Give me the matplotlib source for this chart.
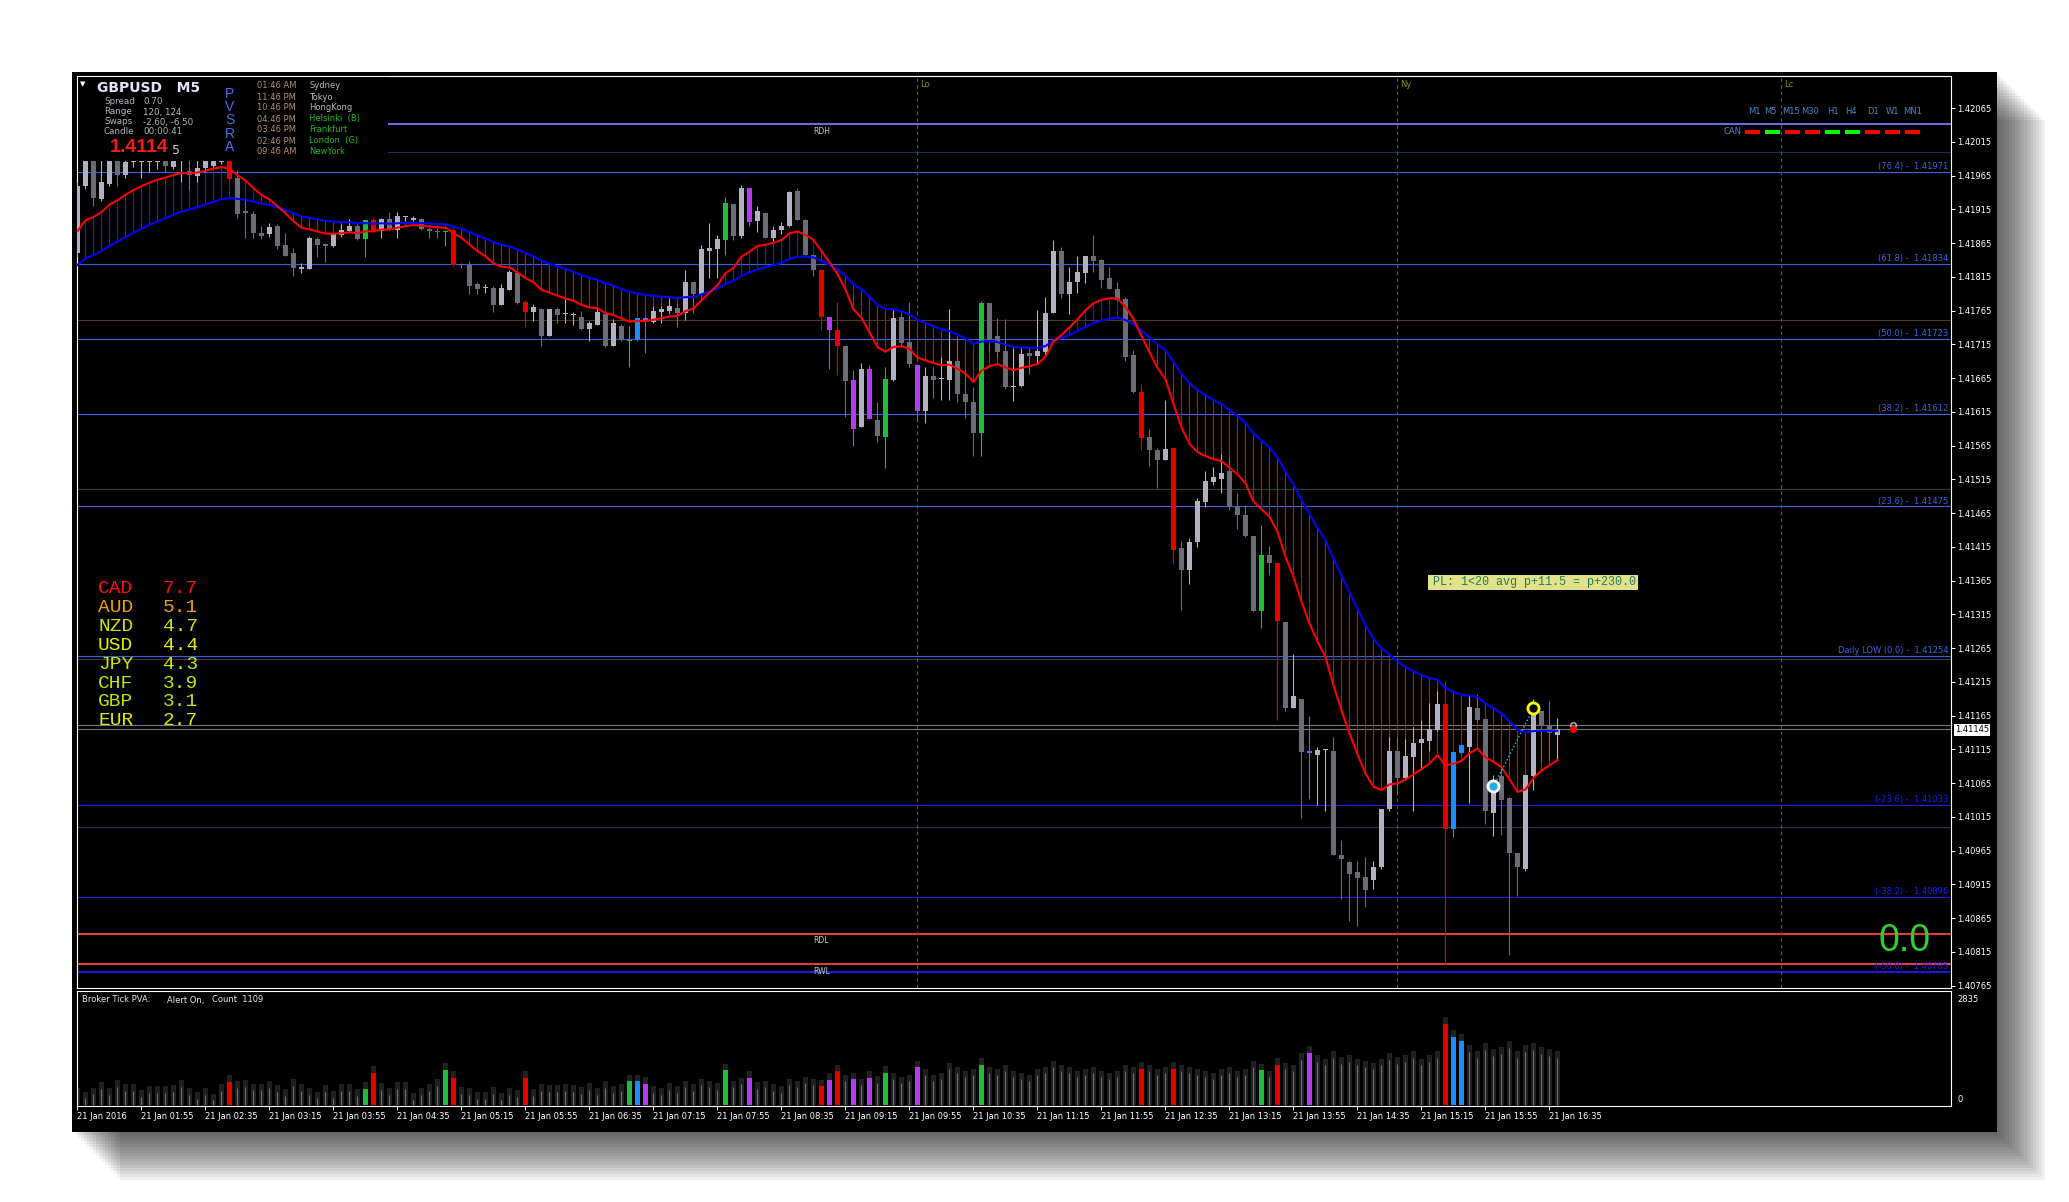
import numpy as np
import matplotlib
matplotlib.use("Agg")
import matplotlib.pyplot as plt
from matplotlib.patches import Rectangle

plt.rcParams['font.family'] = ['DejaVu Sans']

W, H = 2069, 1202

# --- DATA: GBPUSD M5, bar 0 = 21 Jan 01:15 ---
opens = [
    1.41851, 1.41949, 1.41995, 1.41931, 1.41953, 1.41992, 1.41966, 1.41985, 1.41985, 1.41985,
    1.41986, 1.41992, 1.41978, 1.41987, 1.41972, 1.41965, 1.41976, 1.41980, 1.41986, 1.41994,
    1.41961, 1.41913, 1.41908, 1.41880, 1.41878, 1.41891, 1.41862, 1.41850, 1.41827, 1.41827,
    1.41871, 1.41864, 1.41861, 1.41877, 1.41883, 1.41890, 1.41871, 1.41899, 1.41883, 1.41901,
    1.41884, 1.41904, 1.41900, 1.41901, 1.41886, 1.41883, 1.41881, 1.41884, 1.41834, 1.41833,
    1.41804, 1.41798, 1.41799, 1.41774, 1.41796, 1.41821, 1.41778, 1.41763, 1.41768, 1.41728,
    1.41768, 1.41760, 1.41758, 1.41756, 1.41738, 1.41744, 1.41760, 1.41713, 1.41743, 1.41720,
    1.41723, 1.41754, 1.41748, 1.41763, 1.41764, 1.41769, 1.41762, 1.41807, 1.41789, 1.41854,
    1.41856, 1.41869, 1.41923, 1.41875, 1.41947, 1.41898, 1.41910, 1.41872, 1.41885, 1.41890,
    1.41943, 1.41899, 1.41847, 1.41825, 1.41755, 1.41736, 1.41712, 1.41662, 1.41593, 1.41679,
    1.41603, 1.41578, 1.41663, 1.41756, 1.41719, 1.41685, 1.41616, 1.41668, 1.41664, 1.41662,
    1.41691, 1.41641, 1.41630, 1.41584, 1.41777, 1.41727, 1.41705, 1.41652, 1.41653, 1.41702,
    1.41698, 1.41704, 1.41762, 1.41853, 1.41789, 1.41808, 1.41821, 1.41846, 1.41840, 1.41813,
    1.41797, 1.41782, 1.41699, 1.41645, 1.41578, 1.41559, 1.41543, 1.41562, 1.41413, 1.41381,
    1.41422, 1.41481, 1.41511, 1.41516, 1.41527, 1.41475, 1.41462, 1.41431, 1.41320, 1.41403,
    1.41391, 1.41304, 1.41177, 1.41190, 1.41112, 1.41107, 1.41114, 1.41112, 1.40959, 1.40948,
    1.40933, 1.40926, 1.40921, 1.40941, 1.41026, 1.41112, 1.41073, 1.41104, 1.41125, 1.41128,
    1.41144, 1.41182, 1.40997, 1.41110, 1.41119, 1.41176, 1.41160, 1.41021, 1.41075, 1.41043,
    1.40962, 1.40938, 1.41075, 1.41172, 1.41151, 1.41137,
]
highs = [
    1.41955, 1.42005, 1.42002, 1.41995, 1.41998, 1.41998, 1.41995, 1.41996, 1.41995, 1.41996,
    1.41994, 1.41996, 1.41996, 1.41998, 1.41995, 1.41995, 1.41998, 1.42000, 1.42002, 1.42005,
    1.41974, 1.41930, 1.41913, 1.41890, 1.41895, 1.41893, 1.41880, 1.41858, 1.41836, 1.41875,
    1.41874, 1.41865, 1.41880, 1.41893, 1.41901, 1.41894, 1.41900, 1.41903, 1.41903, 1.41911,
    1.41911, 1.41905, 1.41906, 1.41902, 1.41888, 1.41887, 1.41884, 1.41885, 1.41836, 1.41838,
    1.41807, 1.41804, 1.41801, 1.41804, 1.41825, 1.41823, 1.41781, 1.41775, 1.41769, 1.41768,
    1.41771, 1.41784, 1.41763, 1.41764, 1.41749, 1.41769, 1.41760, 1.41752, 1.41745, 1.41743,
    1.41754, 1.41757, 1.41772, 1.41772, 1.41784, 1.41775, 1.41825, 1.41808, 1.41862, 1.41895,
    1.41877, 1.41933, 1.41923, 1.41951, 1.41947, 1.41920, 1.41910, 1.41891, 1.41896, 1.41943,
    1.41947, 1.41901, 1.41847, 1.41826, 1.41755, 1.41778, 1.41712, 1.41677, 1.41687, 1.41685,
    1.41630, 1.41682, 1.41766, 1.41760, 1.41778, 1.41686, 1.41682, 1.41682, 1.41696, 1.41768,
    1.41726, 1.41677, 1.41652, 1.41780, 1.41777, 1.41754, 1.41753, 1.41709, 1.41709, 1.41711,
    1.41766, 1.41785, 1.41869, 1.41860, 1.41830, 1.41846, 1.41846, 1.41877, 1.41842, 1.41830,
    1.41808, 1.41785, 1.41706, 1.41657, 1.41590, 1.41562, 1.41633, 1.41562, 1.41423, 1.41428,
    1.41488, 1.41527, 1.41534, 1.41552, 1.41547, 1.41495, 1.41477, 1.41431, 1.41447, 1.41416,
    1.41391, 1.41304, 1.41257, 1.41190, 1.41165, 1.41119, 1.41116, 1.41133, 1.40981, 1.40949,
    1.40949, 1.40956, 1.40949, 1.41027, 1.41133, 1.41133, 1.41130, 1.41148, 1.41158, 1.41183,
    1.41201, 1.41217, 1.41111, 1.41121, 1.41197, 1.41197, 1.41160, 1.41077, 1.41091, 1.41045,
    1.40962, 1.41077, 1.41190, 1.41172, 1.41187, 1.41162,
]
lows = [
    1.41845, 1.41945, 1.41920, 1.41928, 1.41950, 1.41949, 1.41961, 1.41978, 1.41961, 1.41970,
    1.41975, 1.41970, 1.41975, 1.41956, 1.41945, 1.41955, 1.41970, 1.41976, 1.41982, 1.41955,
    1.41903, 1.41873, 1.41873, 1.41871, 1.41874, 1.41856, 1.41846, 1.41817, 1.41821, 1.41826,
    1.41844, 1.41837, 1.41860, 1.41874, 1.41882, 1.41870, 1.41845, 1.41881, 1.41873, 1.41884,
    1.41873, 1.41898, 1.41895, 1.41884, 1.41872, 1.41873, 1.41861, 1.41831, 1.41828, 1.41790,
    1.41790, 1.41791, 1.41763, 1.41773, 1.41796, 1.41775, 1.41741, 1.41749, 1.41712, 1.41727,
    1.41746, 1.41746, 1.41744, 1.41737, 1.41720, 1.41744, 1.41711, 1.41712, 1.41720, 1.41682,
    1.41720, 1.41702, 1.41746, 1.41747, 1.41762, 1.41741, 1.41751, 1.41761, 1.41789, 1.41813,
    1.41813, 1.41847, 1.41869, 1.41872, 1.41891, 1.41882, 1.41872, 1.41868, 1.41879, 1.41889,
    1.41899, 1.41846, 1.41817, 1.41737, 1.41679, 1.41669, 1.41607, 1.41564, 1.41593, 1.41604,
    1.41570, 1.41532, 1.41661, 1.41711, 1.41682, 1.41602, 1.41598, 1.41635, 1.41633, 1.41632,
    1.41630, 1.41606, 1.41550, 1.41550, 1.41704, 1.41696, 1.41649, 1.41631, 1.41652, 1.41671,
    1.41686, 1.41701, 1.41762, 1.41784, 1.41760, 1.41791, 1.41806, 1.41822, 1.41798, 1.41797,
    1.41779, 1.41691, 1.41643, 1.41559, 1.41535, 1.41502, 1.41543, 1.41390, 1.41321, 1.41360,
    1.41415, 1.41474, 1.41506, 1.41495, 1.41470, 1.41442, 1.41430, 1.41318, 1.41295, 1.41374,
    1.41158, 1.41172, 1.41177, 1.41013, 1.41041, 1.41033, 1.41024, 1.40958, 1.40894, 1.40860,
    1.40853, 1.40882, 1.40908, 1.40938, 1.41024, 1.41048, 1.41071, 1.41024, 1.41084, 1.41112,
    1.41142, 1.40797, 1.40985, 1.41110, 1.41036, 1.41155, 1.41004, 1.40987, 1.40988, 1.40811,
    1.40898, 1.40935, 1.41055, 1.41098, 1.41101, 1.41101,
]
closes = [
    1.41950, 1.41995, 1.41932, 1.41955, 1.41990, 1.41966, 1.41986, 1.41985, 1.41985, 1.41985,
    1.41986, 1.41980, 1.41990, 1.41987, 1.41966, 1.41976, 1.41990, 1.41992, 1.41993, 1.41960,
    1.41908, 1.41909, 1.41880, 1.41876, 1.41889, 1.41861, 1.41846, 1.41828, 1.41829, 1.41872,
    1.41862, 1.41861, 1.41878, 1.41884, 1.41890, 1.41871, 1.41899, 1.41883, 1.41901, 1.41885,
    1.41905, 1.41904, 1.41900, 1.41886, 1.41883, 1.41881, 1.41883, 1.41833, 1.41832, 1.41801,
    1.41797, 1.41798, 1.41774, 1.41799, 1.41823, 1.41777, 1.41763, 1.41770, 1.41728, 1.41768,
    1.41759, 1.41760, 1.41758, 1.41738, 1.41746, 1.41763, 1.41713, 1.41746, 1.41721, 1.41722,
    1.41754, 1.41749, 1.41764, 1.41767, 1.41772, 1.41762, 1.41808, 1.41789, 1.41856, 1.41858,
    1.41871, 1.41925, 1.41875, 1.41947, 1.41896, 1.41912, 1.41872, 1.41885, 1.41891, 1.41941,
    1.41899, 1.41847, 1.41825, 1.41755, 1.41736, 1.41713, 1.41661, 1.41590, 1.41679, 1.41604,
    1.41579, 1.41664, 1.41754, 1.41717, 1.41686, 1.41617, 1.41668, 1.41663, 1.41664, 1.41691,
    1.41642, 1.41630, 1.41584, 1.41777, 1.41722, 1.41704, 1.41652, 1.41652, 1.41701, 1.41698,
    1.41705, 1.41762, 1.41853, 1.41789, 1.41808, 1.41823, 1.41846, 1.41839, 1.41811, 1.41797,
    1.41781, 1.41697, 1.41645, 1.41576, 1.41559, 1.41543, 1.41560, 1.41410, 1.41381, 1.41422,
    1.41483, 1.41513, 1.41518, 1.41525, 1.41474, 1.41462, 1.41431, 1.41320, 1.41403, 1.41391,
    1.41305, 1.41177, 1.41194, 1.41111, 1.41110, 1.41114, 1.41114, 1.40958, 1.40953, 1.40931,
    1.40924, 1.40907, 1.40941, 1.41027, 1.41112, 1.41073, 1.41105, 1.41125, 1.41131, 1.41145,
    1.41182, 1.40997, 1.41111, 1.41121, 1.41178, 1.41158, 1.41024, 1.41059, 1.41040, 1.40962,
    1.40941, 1.41077, 1.41172, 1.41151, 1.41139, 1.41145,
]
volumes = [
    270, 170, 270, 405, 250, 455, 350, 350, 200, 300,
    300, 300, 330, 455, 250, 150, 250, 115, 350, 580,
    430, 455, 370, 370, 430, 330, 235, 480, 350, 250,
    170, 330, 175, 350, 350, 235, 405, 810, 380, 250,
    405, 405, 125, 250, 350, 480, 890, 690, 280, 250,
    150, 150, 280, 125, 250, 200, 690, 235, 350, 330,
    330, 350, 330, 280, 380, 250, 430, 300, 350, 600,
    600, 540, 300, 250, 380, 300, 450, 350, 500, 450,
    380, 880, 450, 520, 680, 400, 450, 350, 300, 500,
    450, 550, 500, 470, 640, 850, 600, 650, 500, 680,
    560, 810, 650, 550, 600, 950, 750, 600, 650, 900,
    800, 700, 750, 1010, 800, 750, 850, 700, 650, 600,
    750, 800, 950, 850, 800, 700, 750, 800, 700, 650,
    700, 850, 800, 910, 850, 750, 800, 920, 850, 800,
    750, 700, 650, 750, 800, 700, 750, 950, 880, 700,
    1010, 900, 850, 1150, 1320, 1100, 1000, 1200, 1050, 1100,
    1000, 950, 900, 1000, 1150, 1050, 1100, 1200, 1000, 1100,
    1200, 2060, 1720, 1620, 1350, 1200, 1400, 1250, 1300, 1450,
    1200, 1350, 1400, 1300, 1250, 1200,
]
# PVSRA coloured bars: r = climax bear, g = climax bull, b = rising bull, m = rising bear
pvsra = {19: 'r', 36: 'g', 37: 'r', 46: 'g', 47: 'r', 56: 'r', 69: 'g', 70: 'b', 71: 'm',
         81: 'g', 84: 'm', 93: 'r', 94: 'm', 95: 'r', 97: 'm', 99: 'm', 101: 'g', 105: 'm',
         113: 'g', 133: 'r', 137: 'r', 148: 'g', 150: 'r', 154: 'm', 171: 'r', 172: 'b', 173: 'b'}

ema_fast_start, ema_slow_start = 1.41883, 1.41833   # values at bar 0
ema_fast_span, ema_slow_span = 13, 34

fib_labels = ['(76.4) -  1.41971', '(61.8) -  1.41834', '(50.0) -  1.41723', '(38.2) -  1.41612',
              '(23.6) -  1.41475', 'Daily LOW (0.0) -  1.41254', '(-23.6) -  1.41033',
              '(-38.2) -  1.40896', '(-50.0) -  1.40785']
fib_prices = [1.41971, 1.41834, 1.41723, 1.41612, 1.41475, 1.41254, 1.41033, 1.40896, 1.40785]
rdh, rdl, rwl = 1.42041, 1.40842, 1.40797
other_levels = [1.42000, 1.41751, 1.41249, 1.41501, 1.41000]
ask_price, bid_price = 1.41151, 1.41145

session_bars = [105, 165, 213]
session_names = ['Lo', 'Ny', 'Lc']

axis_prices = [1.42065, 1.42015, 1.41965, 1.41915, 1.41865, 1.41815, 1.41765, 1.41715, 1.41665,
               1.41615, 1.41565, 1.41515, 1.41465, 1.41415, 1.41365, 1.41315, 1.41265, 1.41215,
               1.41165, 1.41115, 1.41065, 1.41015, 1.40965, 1.40915, 1.40865, 1.40815, 1.40765]
time_ticks = [0, 8, 16, 24, 32, 40, 48, 56, 64, 72, 80, 88, 96, 104, 112, 120, 128, 136, 144,
              152, 160, 168, 176, 184]
time_labels = ['21 Jan 2016', '21 Jan 01:55', '21 Jan 02:35', '21 Jan 03:15', '21 Jan 03:55',
               '21 Jan 04:35', '21 Jan 05:15', '21 Jan 05:55', '21 Jan 06:35', '21 Jan 07:15',
               '21 Jan 07:55', '21 Jan 08:35', '21 Jan 09:15', '21 Jan 09:55', '21 Jan 10:35',
               '21 Jan 11:15', '21 Jan 11:55', '21 Jan 12:35', '21 Jan 13:15', '21 Jan 13:55',
               '21 Jan 14:35', '21 Jan 15:15', '21 Jan 15:55', '21 Jan 16:35']

currencies = ['CAD', 'AUD', 'NZD', 'USD', 'JPY', 'CHF', 'GBP', 'EUR']
strength = [7.7, 5.1, 4.7, 4.4, 4.3, 3.9, 3.1, 2.7]
cur_colors = ['#ff1010', '#eea000', '#d4e000', '#e4f000', '#cce800', '#c4e800', '#c0e400', '#e8e800']

timeframes = ['M1', 'M5', 'M15', 'M30', 'H1', 'H4', 'D1', 'W1', 'MN1']
tf_state = ['r', 'g', 'r', 'r', 'g', 'g', 'r', 'r', 'r']

sessions_clock = ['01:46 AM', '11:46 PM', '10:46 PM', '04:46 PM', '03:46 PM', '02:46 PM', '09:46 AM']
cities = ['Sydney', 'Tokyo', 'HongKong', 'Helsinki  (B)', 'Frankfurt', 'London  (G)', 'NewYork']
city_open = [False, False, False, True, True, True, True]

entry_bar, entry_price = 177, 1.41060
exit_bar, exit_price = 182, 1.41176

# --- LAYOUT ---
P_TOP, P_BOT = 1.421127, 1.407614
X_LEFT, X_RIGHT = -0.0625, 234.19

def rect(x0, y0, x1, y1):
    return [x0 / W, 1 - y1 / H, (x1 - x0) / W, (y1 - y0) / H]

n = len(closes)
x = np.arange(n)
o = np.array(opens); c = np.array(closes)
hi = np.array(highs); lo = np.array(lows)

LIGHT, DARK = '#b0b0c0', '#6c6c76'
PV = {'r': '#e60000', 'g': '#20bb3c', 'b': '#1e8cff', 'm': '#b23cf2'}
cols = [PV[pvsra[i]] if i in pvsra else (LIGHT if c[i] >= o[i] else DARK) for i in range(n)]

fig = plt.figure(figsize=(W / 100, H / 100), dpi=100)
fig.patch.set_facecolor('white')

# window frame and drop shadow
bg = fig.add_axes([0, 0, 1, 1], zorder=0)
bg.set_xlim(0, W); bg.set_ylim(H, 0); bg.axis('off')
for k in range(1, 17):
    bg.add_patch(Rectangle((72 + 3 * k, 72 + 3 * k), 1925, 1060, color='black', alpha=0.05, lw=0))
bg.add_patch(Rectangle((72, 72), 1925, 1060, color='black', lw=0))

# --- main price panel ---
ax = fig.add_axes(rect(77, 76, 1951, 988), zorder=1)
ax.set_facecolor('black')
ax.set_xlim(X_LEFT, X_RIGHT)
ax.set_ylim(P_BOT, P_TOP)

ax.axhline(rdh, color='#6a6ae6', lw=1.5, zorder=1)
ax.axhline(other_levels[0], color='#1c2e60', lw=0.8, zorder=1)
ax.axhline(other_levels[1], color='#4a3826', lw=0.8, zorder=1)
ax.axhline(other_levels[2], color='#4a3826', lw=0.8, zorder=1)
ax.axhline(other_levels[3], color='#1e4e1e', lw=0.8, zorder=1)
ax.axhline(other_levels[4], color='#2c3850', lw=0.8, zorder=1)
for i, (lbl, p) in enumerate(zip(fib_labels, fib_prices)):
    col = '#3a62e0' if i < 6 else '#1a1aff'
    ax.axhline(p, color=col, lw=1.3 if i == 8 else 0.8, zorder=1)
    ax.annotate(lbl, xy=(1, p), xycoords=('axes fraction', 'data'), xytext=(-2, 0.6),
                textcoords='offset points', ha='right', va='bottom', fontsize=6, color=col, zorder=6)
ax.axhline(rdl, color='#e03c3c', lw=1.5, zorder=1)
ax.axhline(rwl, color='#e03c3c', lw=1.5, zorder=1)
for lbl, p in zip(['RDH', 'RDL', 'RWL'], [rdh, rdl, rwl]):
    ax.annotate(lbl, xy=(93, p), xytext=(0, -2), textcoords='offset points',
                ha='center', va='top', fontsize=5.5, color='#c8c8c8', zorder=6)
ax.axhline(ask_price, color='#777777', lw=0.8, zorder=1)
ax.axhline(bid_price, color='#777777', lw=0.8, zorder=1)

for b, name in zip(session_bars, session_names):
    ax.axvline(b, color='#5a5a5a', lw=0.8, ls=(0, (3, 3)), zorder=1)
    ax.text(b + 0.35, 0.991, name, transform=ax.get_xaxis_transform(), fontsize=6,
            color='#8c8c00', va='center', ha='left')

# moving averages and the band between them
def ema(values, start, span):
    a = 2.0 / (span + 1)
    out = [start]
    for v in values[1:]:
        out.append(out[-1] + a * (v - out[-1]))
    return np.array(out)

fast = ema(closes, ema_fast_start, ema_fast_span)
slow = ema(closes, ema_slow_start, ema_slow_span)
band_cols = ['#1a1aff' if f > s else '#ee0000' for f, s in zip(fast, slow)]
ax.vlines(x, fast, slow, colors=band_cols, lw=0.8, zorder=2)

# candles
ax.vlines(x, lo, hi, colors=cols, lw=0.8, zorder=3)
ax.bar(x, np.maximum(np.abs(c - o), 0.000016), bottom=np.minimum(o, c), width=0.6,
       color=cols, lw=0, zorder=3)

ax.plot(x, slow, color='#0000ff', lw=1.5, zorder=4)
ax.plot(x, fast, color='#ff0000', lw=1.5, zorder=5)

# trade markers
ax.plot([entry_bar, exit_bar], [entry_price, exit_price], ls=':', color='#30b8f0', lw=1, zorder=6)
ax.plot(entry_bar, entry_price, 'o', ms=8, mfc='#20b0e8', mec='white', mew=2, zorder=7)
ax.plot(exit_bar, exit_price, 'o', ms=8, mfc='black', mec='#ffff00', mew=2, zorder=7)
ax.plot(n + 1, ask_price, 'o', ms=4, mfc='none', mec='#c0c0c0', mew=1, zorder=7)
ax.plot(n + 1, bid_price, 'o', ms=4, color='#ff0000', zorder=7)

ax.yaxis.tick_right()
ax.set_yticks(axis_prices)
ax.set_yticklabels([f'{p:.5f}' for p in axis_prices])
ax.tick_params(axis='y', colors='white', labelsize=6, length=3, width=0.7, pad=1.5)
ax.set_xticks([])
for s in ax.spines.values():
    s.set_color('white'); s.set_linewidth(0.8)

# --- volume panel ---
axv = fig.add_axes(rect(77, 991, 1951, 1106), zorder=1)
axv.set_facecolor('black')
axv.set_xlim(X_LEFT, X_RIGHT)
axv.set_ylim(-25, 2884)
v = np.array(volumes)
axv.bar(x, v + 170, width=0.6, color='#202020', lw=0, zorder=1)
normal = [i for i in range(n) if i not in pvsra]
axv.vlines(x[normal], 0, v[normal], colors='#6a6aaa', lw=0.8, zorder=2)
special = sorted(pvsra)
axv.bar(x[special], v[special], width=0.6, color=[PV[pvsra[i]] for i in special], lw=0, zorder=2)
axv.set_yticks([])
axv.set_xticks(time_ticks)
axv.set_xticklabels(time_labels, ha='left')
axv.tick_params(axis='x', colors='white', labelsize=6, length=3, width=0.7, pad=1)
for s in axv.spines.values():
    s.set_color('white'); s.set_linewidth(0.8)

# --- overlay: on-chart text panels ---
ov = fig.add_axes([0, 0, 1, 1], zorder=5)
ov.set_xlim(0, W); ov.set_ylim(H, 0); ov.axis('off')

ov.add_patch(Rectangle((78, 77), 310, 84, color='black', lw=0))
ov.text(83, 84, '▼', fontsize=5, color='white', ha='center', va='center')
ov.text(97, 88, 'GBPUSD   M5', fontsize=10, fontweight='bold', color='#e4e4f4', va='center')
for k, (a, b) in enumerate([('Spread', '0.70'), ('Range', '120, 124'),
                            ('Swaps', '-2.60, -6.50'), ('Candle', '00:00:41')]):
    ov.text(104, 102 + 10 * k, a, fontsize=6.3, color='#b4b4bc', va='center')
    ov.text(143, 102 + 10 * k, b, fontsize=6.3, color='#b4b4bc', va='center')
ov.text(110, 148, '1.4114', fontsize=14, fontweight='bold', family='Liberation Sans',
        color='#ff1a1a', va='center')
ov.text(172, 150, '5', fontsize=9, color='#d0d0d0', va='center')
for k, ch in enumerate('PVSRA'):
    ov.text(230, 94 + 13.2 * k, ch, fontsize=10, family='Liberation Sans', color='#4a6ee8',
            ha='center', va='center')
for k, (t, city, op) in enumerate(zip(sessions_clock, cities, city_open)):
    ov.text(257, 86 + 11 * k, t, fontsize=6, color='#b09070', va='center')
    ov.text(309, 86 + 11 * k, city, fontsize=6, color='#22bb22' if op else '#b8b8b8', va='center')

for k, tf in enumerate(timeframes):
    cx = [1754, 1770, 1791, 1810, 1833, 1851, 1873, 1892, 1913][k]
    ov.text(cx, 111, tf, fontsize=6, color='#4a86c8', ha='center', va='center')
    dx = 1752.3 + 20 * k
    ov.add_patch(Rectangle((dx - 7.5, 130), 15, 4, lw=0,
                           color='#ff0000' if tf_state[k] == 'r' else '#00ff00'))
ov.text(1742, 132, 'CAN', fontsize=6, color='#4a86c8', ha='right', va='center')

for k, (cur, val, col) in enumerate(zip(currencies, strength, cur_colors)):
    ov.text(98, 588.5 + 18.9 * k, cur, fontsize=14, family='Liberation Mono', color=col, va='center')
    ov.text(163, 588.5 + 18.9 * k, f'{val:.1f}', fontsize=14, family='Liberation Mono',
            color=col, va='center')

ov.add_patch(Rectangle((1428, 575), 210, 15, color='#e2e28a', lw=0))
ov.text(1433, 582.5, 'PL: 1<20 avg p+11.5 = p+230.0', fontsize=8.5, family='Liberation Mono',
        color='#2a7a5a', va='center')

ov.text(1931, 941, '0.0', fontsize=27, family='Liberation Sans', color='#33cc33',
        ha='right', va='center')

ov.text(1955, 730, f'{bid_price:.5f}', fontsize=6, color='black', va='center',
        bbox=dict(boxstyle='square,pad=0.15', fc='white', ec='none'))

ov.text(82, 1000, 'Broker Tick PVA:', fontsize=6, color='#e8e8e8', va='center')
ov.text(167, 1000, 'Alert On,', fontsize=6, color='#e8e8e8', va='center')
ov.text(212, 1000, 'Count  1109', fontsize=6, color='#e8e8e8', va='center')
ov.text(1957, 999, '2835', fontsize=6, color='white', va='center')
ov.text(1957, 1099, '0', fontsize=6, color='white', va='center')

fig.savefig('out.png', dpi=100, facecolor='white')
